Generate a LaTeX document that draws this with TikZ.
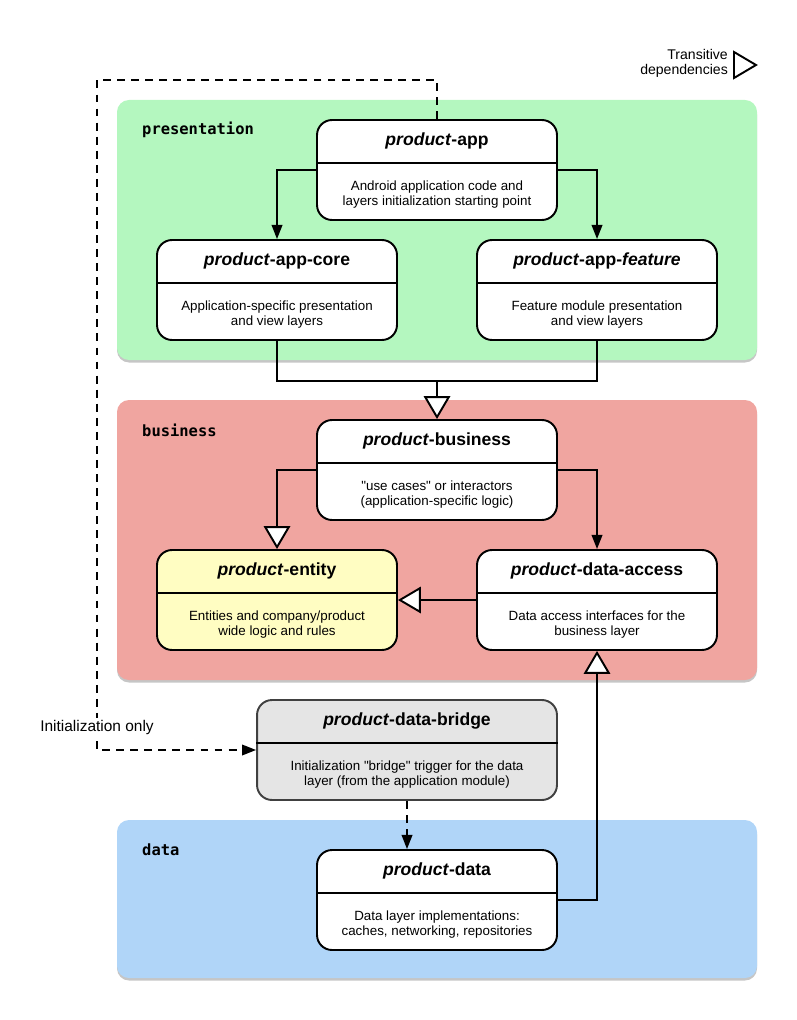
\documentclass[tikz,border=0pt]{standalone}
\usepackage{fontspec}
\setmainfont{Liberation Sans}[Ligatures=TeXOff]
\newfontfamily\layerfont{DejaVu Sans Mono}
\usepackage{tikz}
\usetikzlibrary{arrows.meta, positioning, shadows}

\definecolor{presgreen}{HTML}{B4F7BF}
\definecolor{busred}{HTML}{F0A5A0}
\definecolor{datablue}{HTML}{B0D5F8}
\definecolor{entyellow}{HTML}{FFFDC2}
\definecolor{bridgegray}{HTML}{E5E5E5}

\begin{document}
\begin{tikzpicture}[x=0.02cm, y=-0.02cm,
    layer/.style={rounded corners=0.24cm, drop shadow={shadow xshift=0pt, shadow yshift=-0.05cm, opacity=0.45}},
    layername/.style={anchor=west, font=\layerfont\bfseries\fontsize{8.8}{10}\selectfont},
    module/.style={draw, line width=1.1pt, rounded corners=0.3cm, fill=white, minimum width=4.8cm, minimum height=2cm},
    modtitle/.style={font=\bfseries\fontsize{10}{12}\selectfont},
    moddesc/.style={align=center, font=\fontsize{7.6}{8.6}\selectfont},
    dep/.style={line width=1.1pt, -{Triangle[length=8pt, width=6pt]}},
    trans/.style={line width=1.1pt, -{Triangle[length=13pt, width=15pt, fill=white]}},
    init/.style={dep, dash pattern=on 4.5pt off 3.5pt}]
    \useasboundingbox (0,0) rectangle (797,1020);

    % Layers
    \path[layer, fill=presgreen] (117,100) rectangle (757,360);
    \path[layer, fill=busred] (117,400) rectangle (757,680);
    \path[layer, fill=datablue] (117,820) rectangle (757,978);
    \node[layername] (presname) at (136,130) {presentation};
    \node[layername] (busname) at (136,430) {business};
    \node[layername] (dataname) at (136,850) {data};

    % Legend
    \node[anchor=east, align=right, font=\fontsize{8}{8.6}\selectfont] (legend) at (734,63) {Transitive\\dependencies};
    \draw[line width=1.1pt] (734,52) -- (756,65) -- (734,78) -- cycle;

    % Modules
    \node[module] (app) at (437,170) {};
    \node[module] (core) at (277,290) {};
    \node[module] (feature) at (597,290) {};
    \node[module] (business) at (437,470) {};
    \node[module, fill=entyellow] (entity) at (277,600) {};
    \node[module] (access) at (597,600) {};
    \node[module, fill=bridgegray, draw=black!75, minimum width=6cm] (bridge) at (407,750) {};
    \node[module] (data) at (437,900) {};

    % Dividers
    \foreach \m in {app, core, feature, business, entity, access, bridge, data}
        \draw[line width=1.1pt] ([yshift=-0.88cm]\m.north west) -- ([yshift=-0.88cm]\m.north east);

    % Titles
    \node[modtitle] (apptitle) at ([yshift=-0.44cm]app.north) {\textit{product}-app};
    \node[modtitle] (coretitle) at ([yshift=-0.44cm]core.north) {\textit{product}-app-core};
    \node[modtitle] (featuretitle) at ([yshift=-0.44cm]feature.north) {\textit{product}-app-\textit{feature}};
    \node[modtitle] (businesstitle) at ([yshift=-0.44cm]business.north) {\textit{product}-business};
    \node[modtitle] (entitytitle) at ([yshift=-0.44cm]entity.north) {\textit{product}-entity};
    \node[modtitle] (accesstitle) at ([yshift=-0.44cm]access.north) {\textit{product}-data-access};
    \node[modtitle] (bridgetitle) at ([yshift=-0.44cm]bridge.north) {\textit{product}-data-bridge};
    \node[modtitle] (datatitle) at ([yshift=-0.44cm]data.north) {\textit{product}-data};

    % Descriptions
    \node[moddesc] (appdesc) at ([yshift=0.52cm]app.south) {Android application code and\\layers initialization starting point};
    \node[moddesc] (coredesc) at ([yshift=0.52cm]core.south) {Application-specific presentation\\and view layers};
    \node[moddesc] (featuredesc) at ([yshift=0.52cm]feature.south) {Feature module presentation\\and view layers};
    \node[moddesc] (businessdesc) at ([yshift=0.52cm]business.south) {"use cases" or interactors\\(application-specific logic)};
    \node[moddesc] (entitydesc) at ([yshift=0.52cm]entity.south) {Entities and company/product\\wide logic and rules};
    \node[moddesc] (accessdesc) at ([yshift=0.52cm]access.south) {Data access interfaces for the\\business layer};
    \node[moddesc] (bridgedesc) at ([yshift=0.52cm]bridge.south) {Initialization "bridge" trigger for the data\\layer (from the application module)};
    \node[moddesc] (datadesc) at ([yshift=0.52cm]data.south) {Data layer implementations:\\caches, networking, repositories};

    % Dependencies
    \draw[dep] (app.west) -| (core.north);
    \draw[dep] (app.east) -| (feature.north);
    \coordinate (merge) at ([yshift=-0.8cm]business.north |- core.south);
    \draw[line width=1.1pt] (core.south) |- (merge) -| (feature.south);
    \draw[trans] (merge) -- (business.north);
    \draw[trans] (business.west) -| (entity.north);
    \draw[dep] (business.east) -| (access.north);
    \draw[trans] (access.west) -- (entity.east);
    \draw[trans] (data.east) -| (access.south);

    % Initialization path
    \coordinate (initcorner) at (97,80);
    \draw[init] (app.north) |- (initcorner) |- (bridge.west);
    \node[fill=white, inner sep=1pt, font=\fontsize{8.8}{10}\selectfont] (initlabel) at (97,727) {Initialization only};
    \draw[init] (bridge.south) -- (bridge.south |- data.north);
\end{tikzpicture}
\end{document}
